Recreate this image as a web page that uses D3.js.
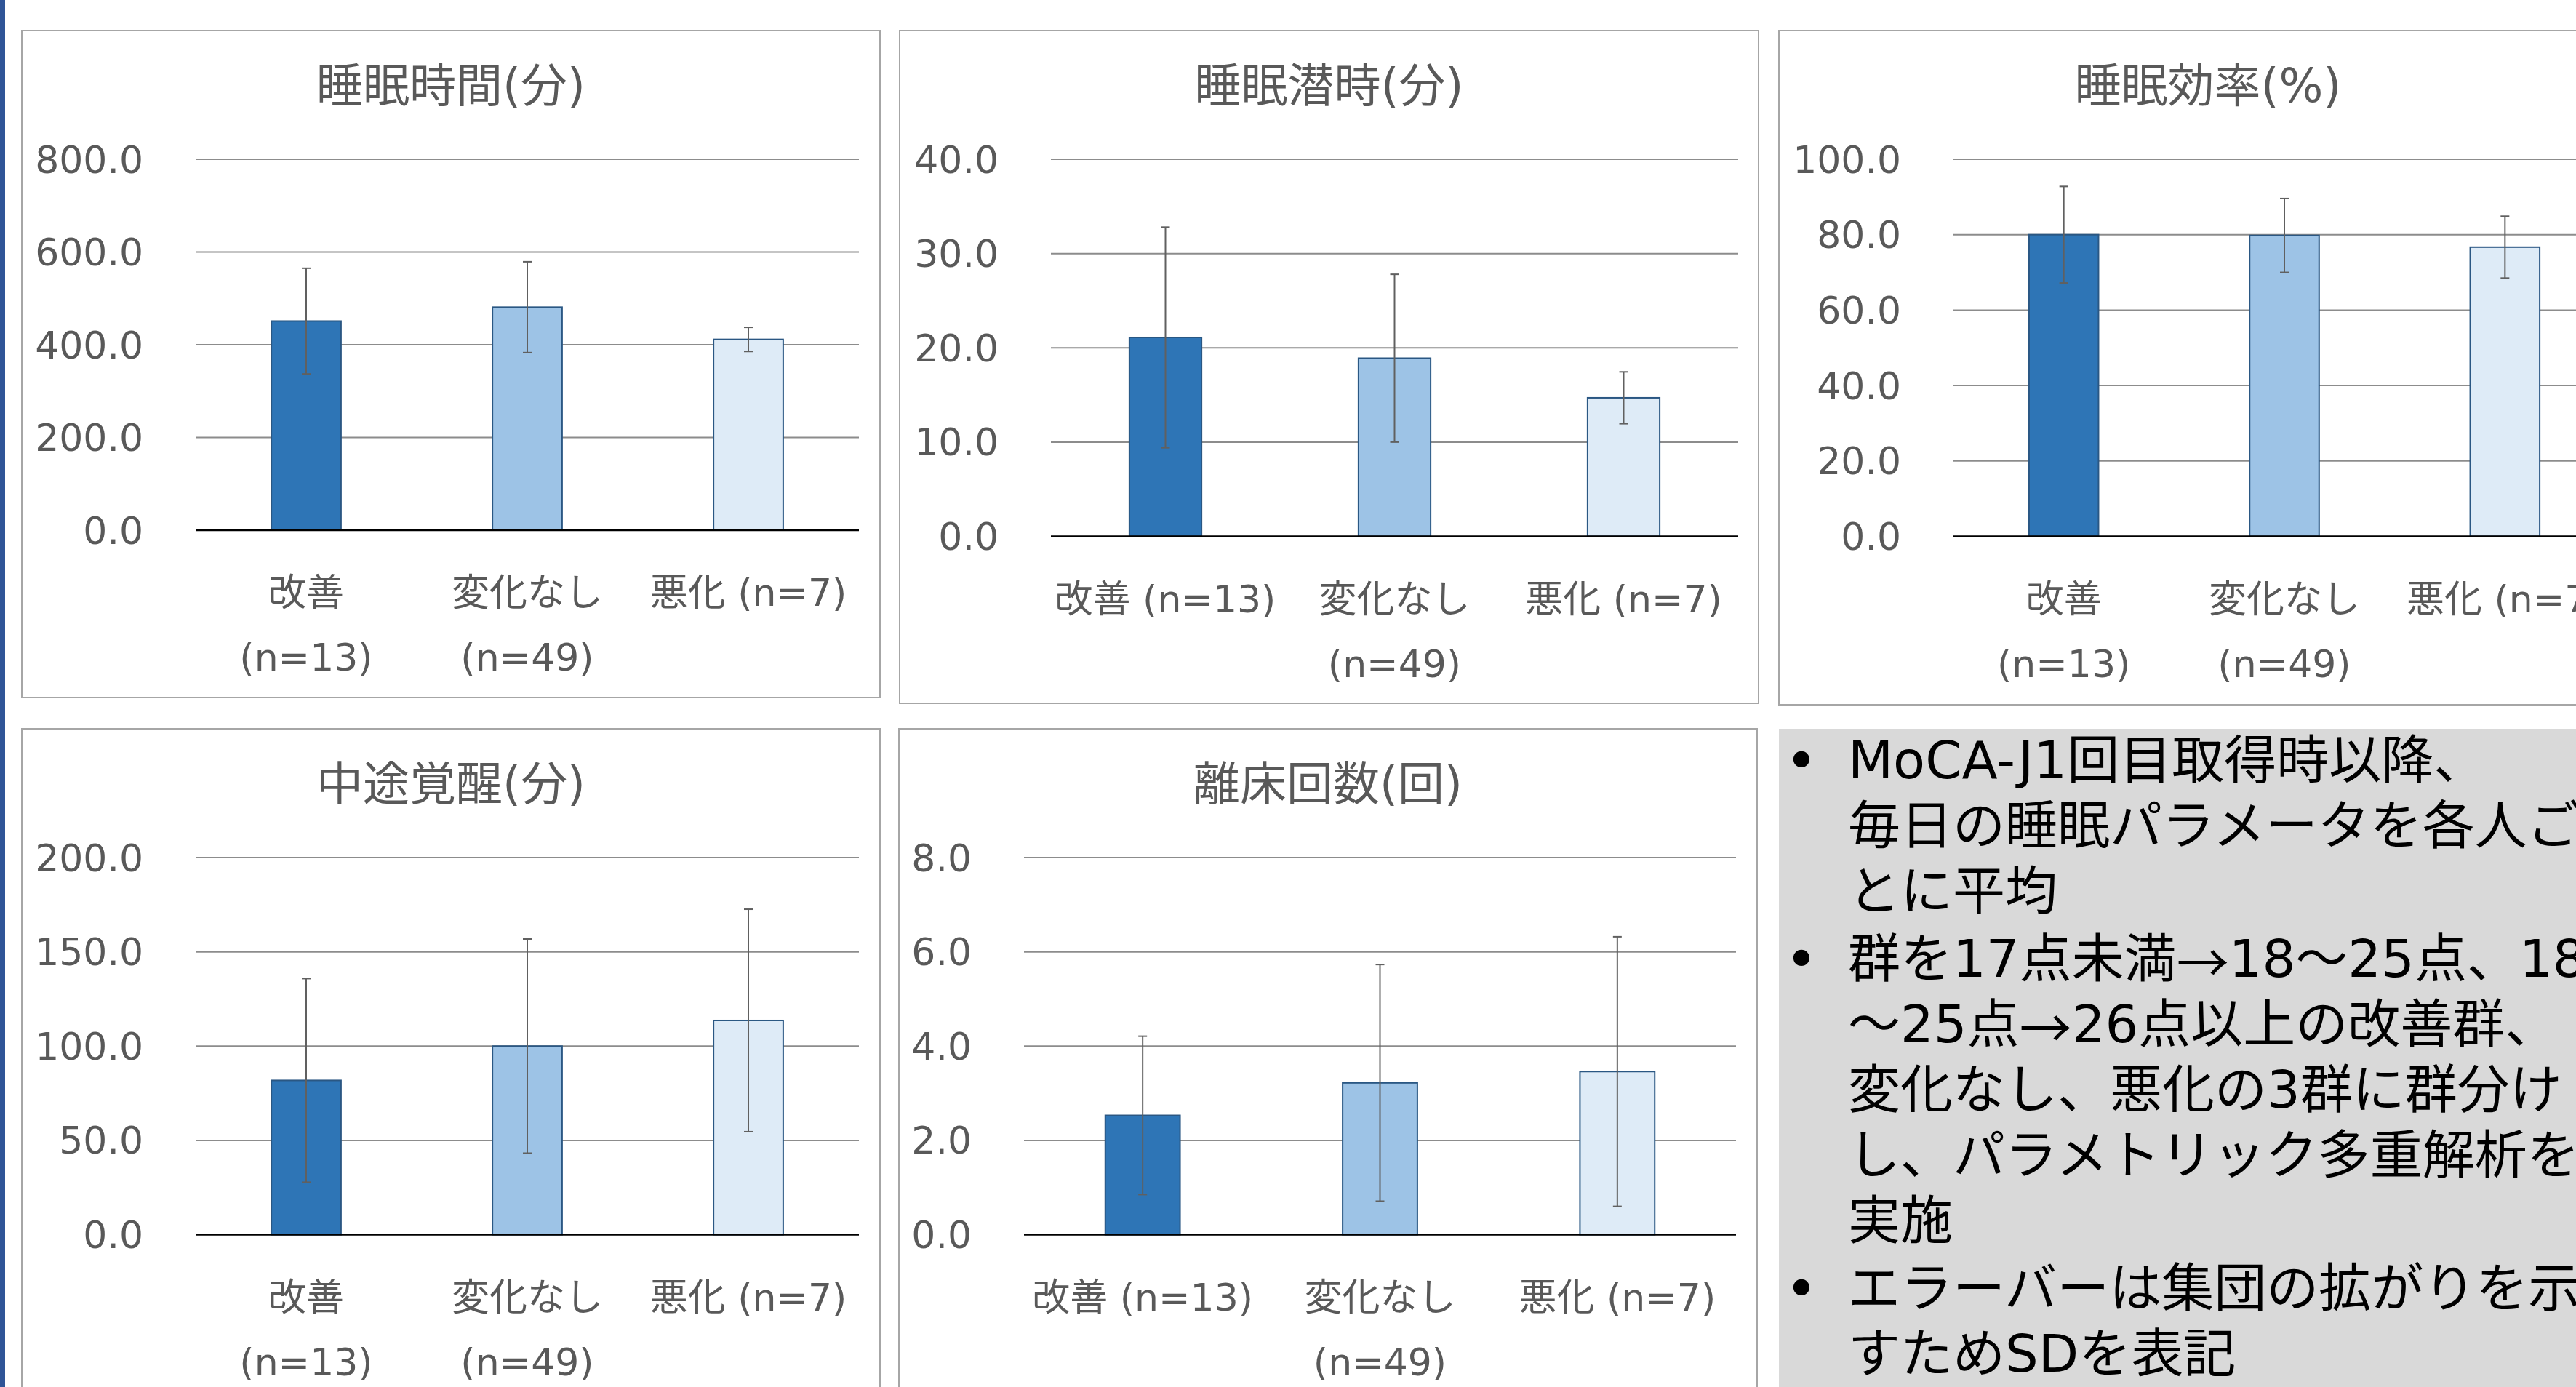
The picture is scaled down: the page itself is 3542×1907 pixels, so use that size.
<!DOCTYPE html>
<html>
<head>
<meta charset="utf-8">
<script src="https://d3js.org/d3.v7.min.js"></script>
<style>
  html, body { margin: 0; padding: 0; background: #ffffff; overflow: hidden; }
  svg { display: block; }
  text { font-family: "DejaVu Sans", "Noto Sans CJK JP", sans-serif; }
</style>
</head>
<body>
<svg id="chart" width="3542" height="1907"></svg>
<script>
// ---------------- data ----------------
const categories = ["改善 (n=13)", "変化なし (n=49)", "悪化 (n=7)"];
const labelsNarrow = [["改善", "(n=13)"], ["変化なし", "(n=49)"], ["悪化 (n=7)"]];
const labelsWide = [["改善 (n=13)"], ["変化なし", "(n=49)"], ["悪化 (n=7)"]];

const titles = ["睡眠時間(分)", "睡眠潜時(分)", "睡眠効率(%)", "中途覚醒(分)", "離床回数(回)"];

const sleepTimeMean = [451, 481, 411.5];
const sleepTimeSD = [114, 98, 26];
const sleepTimeTicks = [0, 200, 400, 600, 800];

const latencyMean = [21.1, 18.9, 14.7];
const latencySD = [11.7, 8.9, 2.75];
const latencyTicks = [0, 10, 20, 30, 40];

const efficiencyMean = [80.0, 79.8, 76.7];
const efficiencySD = [12.8, 9.8, 8.2];
const efficiencyTicks = [0, 20, 40, 60, 80, 100];

const wasoMean = [81.8, 100.0, 113.6];
const wasoSD = [54, 56.8, 59];
const wasoTicks = [0, 50, 100, 150, 200];

const exitsMean = [2.53, 3.22, 3.46];
const exitsSD = [1.68, 2.51, 2.86];
const exitsTicks = [0, 2, 4, 6, 8];

const barColors = ["#2E75B6", "#9DC3E6", "#DEEBF7"];

const notes = [
  ["MoCA-J1回目取得時以降、", "毎日の睡眠パラメータを各人ご", "とに平均"],
  ["群を17点未満→18〜25点、18", "〜25点→26点以上の改善群、", "変化なし、悪化の3群に群分け", "し、パラメトリック多重解析を", "実施"],
  ["エラーバーは集団の拡がりを示", "すためSDを表記"]
];

// ---------------- layout ----------------
const svg = d3.select("#chart");
const W = 3542, H = 1907;
const textGray = "#595959";

svg.append("rect").attr("x", 0).attr("y", 0).attr("width", W).attr("height", H).attr("fill", "#ffffff");

const panels = [
  { title: titles[0], mean: sleepTimeMean, sd: sleepTimeSD, ticks: sleepTimeTicks, labels: labelsNarrow,
    frame: [30, 42, 1210, 959], plot: [269, 219, 1181, 729] },
  { title: titles[1], mean: latencyMean, sd: latencySD, ticks: latencyTicks, labels: labelsWide,
    frame: [1237, 42, 2418, 967], plot: [1445, 219, 2390, 737.5] },
  { title: titles[2], mean: efficiencyMean, sd: efficiencySD, ticks: efficiencyTicks, labels: labelsNarrow,
    frame: [2446, 42, 3626, 969], plot: [2686, 219, 3596, 737.5] },
  { title: titles[3], mean: wasoMean, sd: wasoSD, ticks: wasoTicks, labels: labelsNarrow,
    frame: [30, 1002, 1210, 1940], plot: [269, 1179, 1181, 1697.5] },
  { title: titles[4], mean: exitsMean, sd: exitsSD, ticks: exitsTicks, labels: labelsWide,
    frame: [1236, 1002, 2416, 1940], plot: [1408, 1179, 2387, 1697.5] }
];

panels.forEach(p => {
  const [fx0, fy0, fx1, fy1] = p.frame;
  const [px0, py0, px1, py1] = p.plot;
  const g = svg.append("g");

  g.append("rect")
    .attr("x", fx0).attr("y", fy0)
    .attr("width", fx1 - fx0).attr("height", fy1 - fy0)
    .attr("fill", "#ffffff").attr("stroke", "#A6A6A6").attr("stroke-width", 2);

  g.append("text")
    .attr("x", (fx0 + fx1) / 2).attr("y", fy0 + 76)
    .attr("text-anchor", "middle").attr("dominant-baseline", "central")
    .attr("font-size", 64).attr("fill", textGray)
    .text(p.title);

  const x = d3.scaleBand().domain(categories).range([px0, px1])
    .paddingInner(0.685).paddingOuter(0.3425);
  const y = d3.scaleLinear().domain([0, d3.max(p.ticks)]).range([py1, py0]);

  // gridlines
  g.append("g").selectAll("line").data(p.ticks.filter(t => t !== 0)).join("line")
    .attr("x1", px0).attr("x2", px1)
    .attr("y1", d => y(d)).attr("y2", d => y(d))
    .attr("stroke", "#8C8C8C").attr("stroke-width", 2);

  // y tick labels via axis
  const yAxis = d3.axisLeft(y).tickValues(p.ticks).tickFormat(d3.format(".1f")).tickSize(0).tickPadding(72);
  const ya = g.append("g").attr("transform", `translate(${px0},0)`).call(yAxis);
  ya.select(".domain").remove();
  ya.selectAll("text")
    .attr("font-size", 52).attr("fill", textGray)
    .attr("font-family", "\"DejaVu Sans\", \"Noto Sans CJK JP\", sans-serif")
    .attr("dy", null).attr("dominant-baseline", "central");

  // bars
  g.append("g").selectAll("rect").data(p.mean).join("rect")
    .attr("x", (d, i) => x(categories[i]))
    .attr("width", x.bandwidth())
    .attr("y", d => y(d))
    .attr("height", d => y(0) - y(d))
    .attr("fill", (d, i) => barColors[i])
    .attr("stroke", "#2A5783").attr("stroke-width", 2);

  // error bars
  const eb = g.append("g").attr("stroke", "#606060").attr("stroke-width", 2).attr("fill", "none");
  p.mean.forEach((m, i) => {
    const cx = x(categories[i]) + x.bandwidth() / 2;
    const hi = y(m + p.sd[i]), lo = y(m - p.sd[i]);
    eb.append("line").attr("x1", cx).attr("x2", cx).attr("y1", hi).attr("y2", lo);
    eb.append("line").attr("x1", cx - 6).attr("x2", cx + 6).attr("y1", hi).attr("y2", hi);
    eb.append("line").attr("x1", cx - 6).attr("x2", cx + 6).attr("y1", lo).attr("y2", lo);
  });

  // x axis line
  g.append("line").attr("x1", px0).attr("x2", px1).attr("y1", y(0)).attr("y2", y(0))
    .attr("stroke", "#000000").attr("stroke-width", 2.5);

  // category labels
  categories.forEach((c, i) => {
    const cx = x(c) + x.bandwidth() / 2;
    p.labels[i].forEach((line, j) => {
      g.append("text")
        .attr("x", cx).attr("y", y(0) + 86 + j * 89)
        .attr("text-anchor", "middle").attr("dominant-baseline", "central")
        .attr("font-size", 52).attr("fill", textGray)
        .text(line);
    });
  });
});

// note box
svg.append("rect").attr("x", 2446).attr("y", 1002).attr("width", W - 2446 + 10).attr("height", H - 1002 + 10)
  .attr("fill", "#D9D9D9");

let lineIdx = 0;
notes.forEach((para, pi) => {
  para.forEach((line, li) => {
    const yy = 1045 + 90 * lineIdx + 3 * pi;
    if (li === 0) {
      svg.append("text").attr("x", 2477).attr("y", yy)
        .attr("text-anchor", "middle").attr("dominant-baseline", "central")
        .attr("font-size", 76).attr("fill", "#000000").text("•");
    }
    const t = svg.append("text").attr("x", 2541).attr("y", yy)
      .attr("dominant-baseline", "central")
      .attr("font-size", 72).attr("fill", "#000000");
    line.split(/(→)/).filter(s => s.length).forEach(seg => {
      const ts = t.append("tspan").text(seg);
      if (seg === "→") ts.attr("font-family", "\"Noto Sans CJK JP\", sans-serif");
    });
    lineIdx++;
  });
});

// left accent stripe
svg.append("rect").attr("x", 0).attr("y", 0).attr("width", 7).attr("height", H).attr("fill", "#2F5597");
</script>
</body>
</html>
